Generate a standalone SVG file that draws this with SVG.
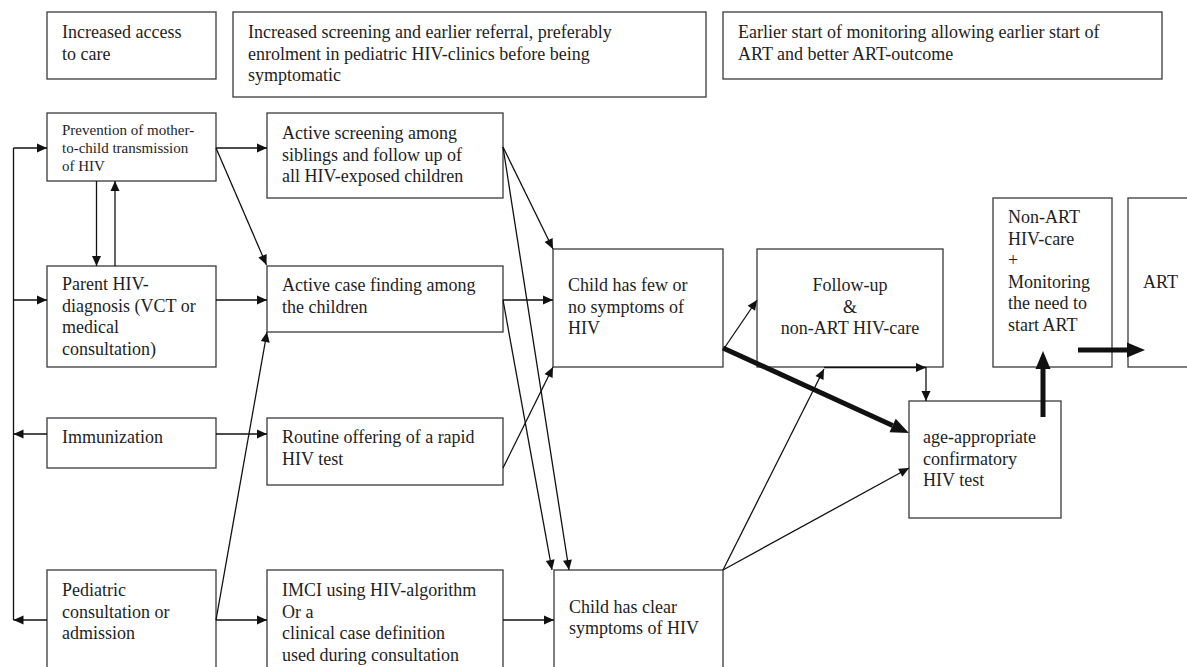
<svg xmlns="http://www.w3.org/2000/svg" width="1187" height="667" viewBox="0 0 1187 667">
<defs>
<style>
.box{fill:#fff;stroke:#3a3a3a;stroke-width:1.3}
.t{font-family:"Liberation Serif","Times New Roman",serif;font-size:18px;fill:#1e1e1e}
.s{font-size:15px}
.c{stroke:#111;stroke-width:1.3;fill:none}
.a{marker-end:url(#ah)}
.k{stroke:#111;stroke-width:5;fill:none;marker-end:url(#bh)}
</style>
<marker id="ah" markerUnits="userSpaceOnUse" markerWidth="10" markerHeight="9" refX="10" refY="4.5" orient="auto" overflow="visible">
<path d="M0,0 L10,4.5 L0,9 z" fill="#111"/>
</marker>
<marker id="bh" markerUnits="userSpaceOnUse" markerWidth="18" markerHeight="15" refX="0" refY="7.5" orient="auto" overflow="visible">
<path d="M0,0 L18,7.5 L0,15 z" fill="#111"/>
</marker>
</defs>
<rect width="1187" height="667" fill="#fff"/>

<g id="n-access">
<rect class="box" x="47" y="12" width="169" height="67"/>
<text class="t" x="62" y="38">Increased access</text>
<text class="t" x="62" y="59.5">to care</text>
</g>
<g id="n-screening">
<rect class="box" x="233" y="12" width="473" height="85"/>
<text class="t" x="248" y="38">Increased screening and earlier referral, preferably</text>
<text class="t" x="248" y="59.5">enrolment in pediatric HIV-clinics before being</text>
<text class="t" x="248" y="81">symptomatic</text>
</g>
<g id="n-earlier">
<rect class="box" x="723" y="12" width="439" height="67"/>
<text class="t" x="738" y="38">Earlier start of monitoring allowing earlier start of</text>
<text class="t" x="738" y="59.5">ART and better ART-outcome</text>
</g>

<g id="n-pmtct">
<rect class="box" x="47" y="113" width="169" height="68"/>
<text class="t s" x="62" y="135">Prevention of mother-</text>
<text class="t s" x="62" y="153">to-child transmission</text>
<text class="t s" x="62" y="170.5">of HIV</text>
</g>
<g id="n-parent">
<rect class="box" x="47" y="266" width="169" height="101"/>
<text class="t" x="62" y="290">Parent HIV-</text>
<text class="t" x="62" y="311.5">diagnosis (VCT or</text>
<text class="t" x="62" y="333">medical</text>
<text class="t" x="62" y="354.5">consultation)</text>
</g>
<g id="n-immunization">
<rect class="box" x="47" y="418" width="169" height="50"/>
<text class="t" x="62" y="443">Immunization</text>
</g>
<g id="n-pediatric">
<rect class="box" x="47" y="570" width="169" height="120"/>
<text class="t" x="62" y="596">Pediatric</text>
<text class="t" x="62" y="617.5">consultation or</text>
<text class="t" x="62" y="639">admission</text>
</g>

<g id="n-active-screening">
<rect class="box" x="267" y="113" width="236" height="85"/>
<text class="t" x="282" y="139">Active screening among</text>
<text class="t" x="282" y="160.5">siblings and follow up of</text>
<text class="t" x="282" y="182">all HIV-exposed children</text>
</g>
<g id="n-case-finding">
<rect class="box" x="267" y="266" width="236" height="66"/>
<text class="t" x="282" y="291">Active case finding among</text>
<text class="t" x="282" y="312.5">the children</text>
</g>
<g id="n-routine">
<rect class="box" x="267" y="418" width="236" height="67"/>
<text class="t" x="282" y="443">Routine offering of a rapid</text>
<text class="t" x="282" y="464.5">HIV test</text>
</g>
<g id="n-imci">
<rect class="box" x="267" y="570" width="236" height="120"/>
<text class="t" x="282" y="596">IMCI using HIV-algorithm</text>
<text class="t" x="282" y="617.5">Or a</text>
<text class="t" x="282" y="639">clinical case definition</text>
<text class="t" x="282" y="660.5">used during consultation</text>
</g>

<g id="n-few">
<rect class="box" x="553" y="249" width="170" height="118"/>
<text class="t" x="568" y="291">Child has few or</text>
<text class="t" x="568" y="312.5">no symptoms of</text>
<text class="t" x="568" y="334">HIV</text>
</g>
<g id="n-clear">
<rect class="box" x="554" y="570" width="169" height="120"/>
<text class="t" x="569" y="612.5">Child has clear</text>
<text class="t" x="569" y="634">symptoms of HIV</text>
</g>
<g id="n-followup">
<rect class="box" x="757" y="249" width="186" height="118"/>
<text class="t" x="850" y="291" text-anchor="middle">Follow-up</text>
<text class="t" x="850" y="312.5" text-anchor="middle">&amp;</text>
<text class="t" x="850" y="334" text-anchor="middle">non-ART HIV-care</text>
</g>
<g id="n-age">
<rect class="box" x="909" y="401" width="152" height="117"/>
<text class="t" x="923" y="443">age-appropriate</text>
<text class="t" x="923" y="464.5">confirmatory</text>
<text class="t" x="923" y="486">HIV test</text>
</g>
<g id="n-nonart">
<rect class="box" x="993" y="198" width="119" height="169"/>
<text class="t" x="1008" y="223">Non-ART</text>
<text class="t" x="1008" y="244.5">HIV-care</text>
<text class="t" x="1008" y="266">+</text>
<text class="t" x="1008" y="287.5">Monitoring</text>
<text class="t" x="1008" y="309">the need to</text>
<text class="t" x="1008" y="330.5">start ART</text>
</g>
<g id="n-art">
<rect class="box" x="1128" y="198" width="80" height="169"/>
<text class="t" x="1143" y="288">ART</text>
</g>

<g id="connectors">
<path class="c" d="M13.5,148 V620"/>
<path class="c a" d="M13.5,148 H47"/>
<path class="c a" d="M13.5,300 H47"/>
<path class="c a" d="M47,434 H13.5"/>
<path class="c a" d="M47,620 H13.5"/>
<path class="c a" d="M96.5,181 V266"/>
<path class="c a" d="M115,266 V181"/>
<path class="c a" d="M216,148 H267"/>
<path class="c a" d="M216,148 L266.5,265"/>
<path class="c a" d="M216,300 H267"/>
<path class="c a" d="M216,434 H267"/>
<path class="c a" d="M216,620 H267"/>
<path class="c a" d="M216,620 L267,332"/>
<path class="c a" d="M503,147 L553,249"/>
<path class="c a" d="M503,147 L569,570"/>
<path class="c a" d="M503,300 H553"/>
<path class="c a" d="M503,300 L552,570"/>
<path class="c a" d="M503,468 L553,367"/>
<path class="c a" d="M503,620 H554"/>
<path class="c a" d="M723,350 L757,300"/>
<path class="c a" d="M723,570 L824,369"/>
<path class="c a" d="M824,367.5 H926"/>
<path class="c a" d="M926,367 V401"/>
<path class="c a" d="M723,570 L909,468"/>
<path class="k" d="M723,348 L892.6,425.5"/>
<path class="k" d="M1043,417 V369"/>
<path class="k" d="M1078,350 H1127"/>
</g>
</svg>
